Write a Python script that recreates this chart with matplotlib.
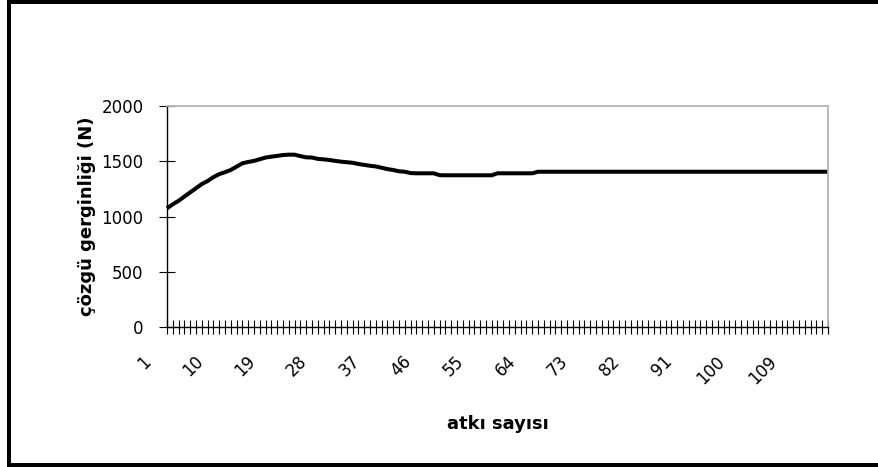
import matplotlib
matplotlib.use("Agg")
import matplotlib.pyplot as plt
from matplotlib.lines import Line2D
from matplotlib.transforms import ScaledTranslation

plt.rcParams['font.family'] = ['DejaVu Sans']

# weft count (categories) and warp tension values (N)
atki = list(range(1, 116))
gerginlik = [
    1074, 1110, 1142, 1180, 1218, 1255, 1293, 1320, 1355, 1382,
    1400, 1420, 1450, 1480, 1492, 1502, 1517, 1532, 1540, 1547,
    1555, 1558, 1558, 1545, 1534, 1532, 1520, 1516, 1510, 1502,
    1495, 1490, 1485, 1474, 1466, 1458, 1452, 1440, 1428, 1420,
    1408, 1404, 1392, 1390, 1390, 1390, 1390, 1373, 1372, 1372,
    1372, 1372, 1372, 1372, 1372, 1372, 1372, 1390, 1390, 1390,
    1390, 1390, 1390, 1390, 1404, 1404, 1404, 1404, 1404, 1404,
    1404, 1404, 1404, 1404, 1404, 1404, 1404, 1404, 1404, 1404,
    1404, 1404, 1404, 1404, 1404, 1404, 1404, 1404, 1404, 1404,
    1404, 1404, 1404, 1404, 1404, 1404, 1404, 1404, 1404, 1404,
    1404, 1404, 1404, 1404, 1404, 1404, 1404, 1404, 1404, 1404,
    1404, 1404, 1404, 1404, 1404,
]
label_every = 9
y_ticks = [0, 500, 1000, 1500, 2000]

W, H = 879, 467
fig = plt.figure(figsize=(W / 100, H / 100), dpi=100)
ax = fig.add_axes([167 / W, (H - 327.3) / H, (828 - 167) / W, (327.3 - 105.7) / H])

ax.plot(atki, gerginlik, color='black', lw=2.9, solid_joinstyle='round',
        solid_capstyle='butt', clip_on=False)

ax.set_xlim(atki[0], atki[-1])
ax.set_ylim(y_ticks[0], y_ticks[-1])

# axes frame: black category/value axes, grey plot-area border
for side in ('left', 'bottom'):
    ax.spines[side].set_color('black')
    ax.spines[side].set_linewidth(1.0)
for side in ('top', 'right'):
    ax.spines[side].set_color('#b4b4b4')
    ax.spines[side].set_linewidth(1.3)

ax.set_yticks(y_ticks)
ax.set_yticklabels([str(v) for v in y_ticks], fontsize=12)
ax.tick_params(axis='y', direction='inout', length=12, width=0.8, pad=11)

ax.set_xticks(atki)
ax.set_xticklabels([str(k) if (k - 1) % label_every == 0 else '' for k in atki],
                   fontsize=12)
ax.tick_params(axis='x', direction='inout', length=10, width=0.8, pad=2)
for lab in ax.get_xticklabels():
    lab.set_rotation(45)
    lab.set_ha('right')
    lab.set_va('center')
    lab.set_rotation_mode('anchor')
    lab.set_transform(lab.get_transform() + ScaledTranslation(-0.19, -0.22, fig.dpi_scale_trans))

ax.set_ylabel('çözgü gerginliği (N)', fontsize=13, fontweight='bold')
ax.yaxis.set_label_coords(-0.108, 0.5)
ax.set_xlabel('atkı sayısı', fontsize=13, fontweight='bold')
ax.xaxis.set_label_coords(0.5, -0.395)

# chart-area frame
lw_frame = 2.9
fig.add_artist(Line2D([9 / W, 9 / W], [1 - 1 / H, 2 / H], transform=fig.transFigure,
                      color='black', lw=lw_frame, solid_capstyle='butt'))
fig.add_artist(Line2D([7 / W, 1], [1 - 1.5 / H, 1 - 1.5 / H], transform=fig.transFigure,
                      color='black', lw=lw_frame, solid_capstyle='butt'))
fig.add_artist(Line2D([7 / W, 1], [2 / H, 2 / H], transform=fig.transFigure,
                      color='black', lw=lw_frame, solid_capstyle='butt'))

fig.savefig('out.png', dpi=100)
